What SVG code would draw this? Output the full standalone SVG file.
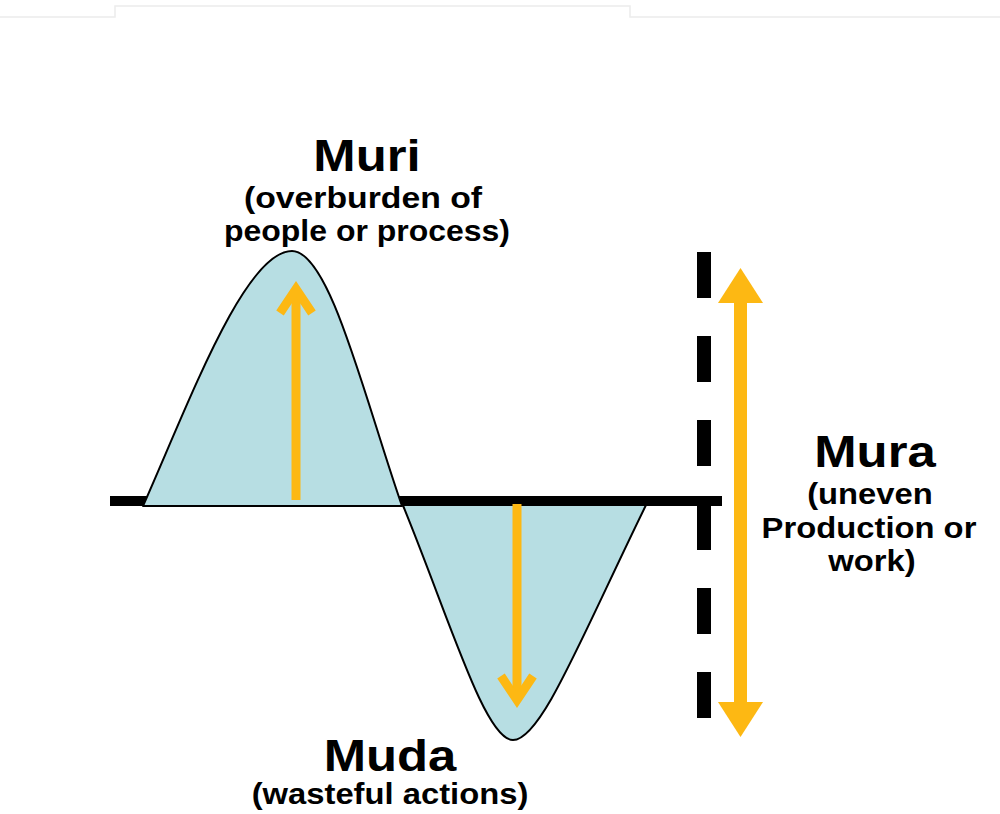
<svg xmlns="http://www.w3.org/2000/svg" width="1000" height="814" viewBox="0 0 1000 814">
  <style>
    .title { font-family: "Liberation Sans", Arial, sans-serif; font-weight: bold; font-size: 45px; fill: #000; }
    .sub { font-family: "Liberation Sans", Arial, sans-serif; font-weight: bold; font-size: 29px; fill: #000; }
    .lobe { fill: #B7DEE3; stroke: #000; stroke-width: 2; stroke-linejoin: round; }
    .arrow { stroke: #FDB813; fill: none; stroke-width: 9; }
    .head { fill: #FDB813; }
  </style>
  <rect width="1000" height="814" fill="#fff"/>
  <g id="frame" stroke="#ececec" stroke-width="1.5" fill="none">
    <path d="M0,17 H115 V6 H630 V17 H1000"/>
  </g>
  <g id="wave">
    <path id="muda-lobe" class="lobe" d="M402,503 C450,620 485,740 513,740 C541,740 580,640 647,503 Z"/>
    <rect id="axis" x="110" y="496" width="612" height="10" fill="#000"/>
    <path id="muri-lobe" class="lobe" d="M143,506 C190,400 245,251 292,251 C330,251 365,400 402,506 Z"/>
  </g>
  <g id="mura-axis">
    <line x1="704" y1="252" x2="704" y2="718" stroke="#000" stroke-width="14" stroke-dasharray="46 38"/>
  </g>
  <g id="connectors">
    <g id="muri-arrow">
      <line class="arrow" x1="296" y1="500" x2="296" y2="290"/>
      <polyline class="arrow" points="280,313 296,289 312,313" stroke-linejoin="miter"/>
    </g>
    <g id="muda-arrow">
      <line class="arrow" x1="517" y1="504" x2="517" y2="698"/>
      <polyline class="arrow" points="501,676 517,700 533,676" stroke-linejoin="miter"/>
    </g>
    <g id="mura-arrow">
      <rect x="734" y="300" width="13" height="405" fill="#FDB813"/>
      <polygon class="head" points="740.5,268 763,303 718,303"/>
      <polygon class="head" points="740.5,737 763,702 718,702"/>
    </g>
  </g>
  <g id="muri">
    <text class="title" text-anchor="middle" transform="translate(367 171) scale(1.13 1)">Muri</text>
    <text class="sub" x="244" y="208" textLength="238" lengthAdjust="spacingAndGlyphs">(overburden of</text>
    <text class="sub" x="224" y="241" textLength="286" lengthAdjust="spacingAndGlyphs">people or process)</text>
  </g>
  <g id="mura">
    <text class="title" text-anchor="middle" transform="translate(875 467) scale(1.13 1)">Mura</text>
    <text class="sub" text-anchor="middle" transform="translate(870 504) scale(1.13 1)">(uneven</text>
    <text class="sub" text-anchor="middle" transform="translate(869 538) scale(1.13 1)">Production or</text>
    <text class="sub" text-anchor="middle" transform="translate(872 571) scale(1.13 1)">work)</text>
  </g>
  <g id="muda">
    <text class="title" text-anchor="middle" transform="translate(390 771) scale(1.13 1)">Muda</text>
    <text class="sub" text-anchor="middle" transform="translate(390 804) scale(1.13 1)">(wasteful actions)</text>
  </g>
</svg>
